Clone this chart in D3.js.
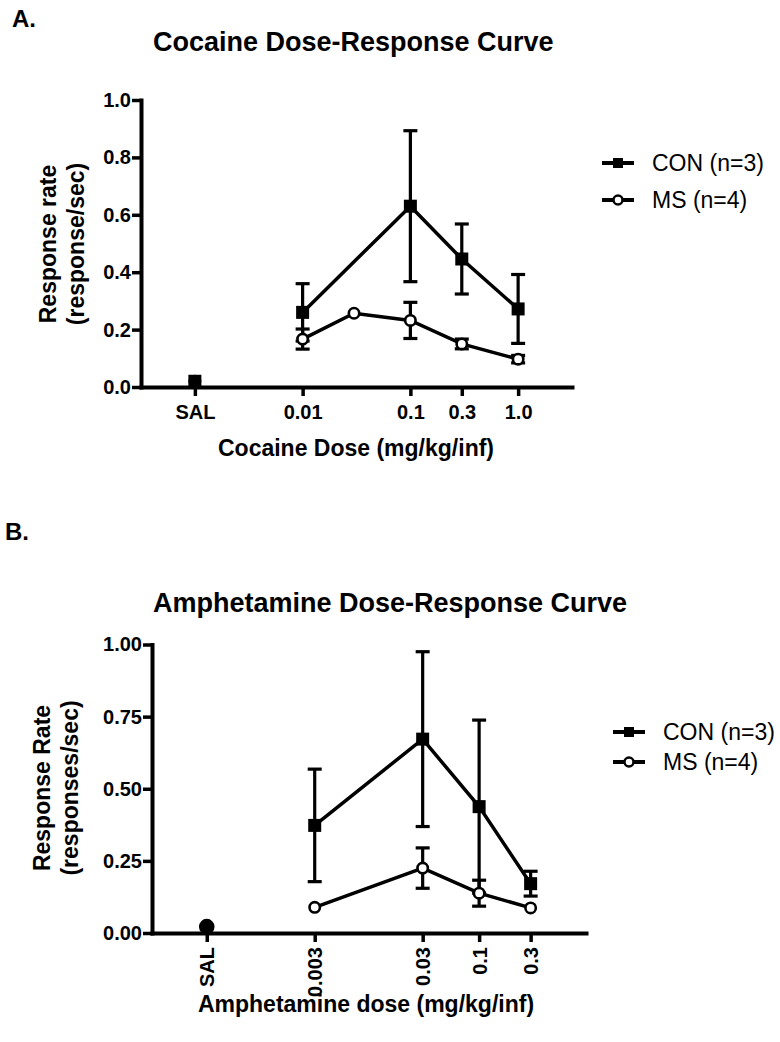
<!DOCTYPE html>
<html><head><meta charset="utf-8">
<script src="https://cdn.jsdelivr.net/npm/d3@7"></script>
<style>
html,body{margin:0;padding:0;background:#fff;}
svg{display:block;font-family:"Liberation Sans",Arial,sans-serif;}
</style></head>
<body>
<svg id="chart" width="780" height="1042"></svg>
<script>
// ---- Panel A: Cocaine ----
const dosesA = [0.001, 0.01, 0.03, 0.1, 0.3, 1.0];      // 0.001 = SAL position
const tickDosesA = [0.001, 0.01, 0.1, 0.3, 1.0];
const tickLabelsA = ["SAL", "0.01", "0.1", "0.3", "1.0"];
const conA = [0.02, 0.26, null, 0.63, 0.446, 0.272];
const conErrA = [0, 0.10, null, 0.263, 0.122, 0.12];
const msA = [0.02, 0.167, 0.257, 0.232, 0.150, 0.097];
const msErrA = [0, 0.035, 0, 0.063, 0.017, 0.013];
const yTicksA = [0, 0.2, 0.4, 0.6, 0.8, 1.0];

// ---- Panel B: Amphetamine ----
const dosesB = [0.0003, 0.003, 0.03, 0.1, 0.3];          // 0.0003 = SAL position
const tickLabelsB = ["SAL", "0.003", "0.03", "0.1", "0.3"];
const conB = [0.022, 0.373, 0.672, 0.438, 0.171];
const conErrB = [0, 0.195, 0.303, 0.30, 0.043];
const msB = [0.022, 0.089, 0.225, 0.138, 0.087];
const msErrB = [0, 0, 0.07, 0.045, 0];
const yTicksB = [0, 0.25, 0.5, 0.75, 1.0];

const seriesNames = ["CON (n=3)", "MS (n=4)"];

const svg = d3.select("#chart");

function panel(cfg) {
  const g = svg.append("g");
  const x = d3.scaleLog().domain(cfg.xDomain).range(cfg.xRange);
  const y = d3.scaleLinear().domain([0, 1]).range(cfg.yRange);

  const ya = g.append("g").attr("transform", `translate(${cfg.xRange[0]},0)`)
    .call(d3.axisLeft(y).tickValues(cfg.yTicks).tickFormat(cfg.yFmt).tickSize(9).tickSizeOuter(0).tickPadding(1));
  const xa = g.append("g").attr("transform", `translate(0,${cfg.yRange[0]})`)
    .call(d3.axisBottom(x).tickValues(cfg.xTicks).tickFormat((d, i) => cfg.xLabels[i]).tickSize(9).tickSizeOuter(0).tickPadding(cfg.rotate ? 6 : 9));
  [ya, xa].forEach(a => {
    a.select(".domain").attr("stroke", "#000").attr("stroke-width", 4).attr("stroke-linecap", "square");
    a.selectAll(".tick line").attr("stroke", "#000").attr("stroke-width", 3.5);
    a.selectAll(".tick text").attr("fill", "#000").attr("font-size", 20).attr("font-weight", "bold");
  });
  if (cfg.rotate) {
    xa.selectAll(".tick text").attr("transform", "rotate(-90)").attr("text-anchor", "end")
      .attr("x", -14).attr("y", 0).attr("dy", "0.35em");
  }

  const defs = [
    {vals: cfg.ms, errs: cfg.msErr, marker: "circle"},
    {vals: cfg.con, errs: cfg.conErr, marker: "square"}
  ];
  const line = d3.line().x(d => x(d.x)).y(d => y(d.v));
  defs.forEach(s => {
    const pts = cfg.doses.map((d, i) => ({x: d, v: s.vals[i], e: s.errs[i]}));
    const linePts = pts.slice(1).filter(p => p.v != null);
    g.append("path").datum(linePts).attr("d", line).attr("fill", "none").attr("stroke", "#000").attr("stroke-width", 3.5);
    pts.filter(p => p.v != null && p.e > 0).forEach(p => {
      const px = x(p.x), top = y(p.v + p.e), bot = y(p.v - p.e);
      g.append("line").attr("x1", px).attr("x2", px).attr("y1", top).attr("y2", bot).attr("stroke", "#000").attr("stroke-width", 3.2);
      [top, bot].forEach(yy => g.append("line").attr("x1", px - 7).attr("x2", px + 7).attr("y1", yy).attr("y2", yy).attr("stroke", "#000").attr("stroke-width", 3.2));
    });
    s.pts = pts;
  });
  defs.forEach(s => {
    s.pts.filter(p => p.v != null).forEach(p => {
      const px = x(p.x), py = y(p.v);
      if (s.marker === "square") {
        if (p.x === cfg.doses[0] && cfg.salFilled) return;
        g.append("rect").attr("x", px - 6.5).attr("y", py - 6.5).attr("width", 13).attr("height", 13).attr("fill", "#000");
      } else {
        const filled = p.x === cfg.doses[0] && cfg.salFilled;
        g.append("circle").attr("cx", px).attr("cy", py).attr("r", filled ? 6.5 : 5.2)
          .attr("fill", filled ? "#000" : "#fff").attr("stroke", "#000").attr("stroke-width", 2.6);
      }
    });
  });

  g.append("text").attr("x", cfg.panelPos[0]).attr("y", cfg.panelPos[1]).text(cfg.panel)
    .attr("font-size", 24).attr("font-weight", "bold");
  g.append("text").attr("x", cfg.titlePos[0]).attr("y", cfg.titlePos[1])
    .text(cfg.title).attr("font-size", 27).attr("font-weight", "bold");
  g.append("text").attr("x", cfg.xTitlePos[0]).attr("y", cfg.xTitlePos[1]).attr("text-anchor", "middle")
    .text(cfg.xTitle).attr("font-size", 23).attr("font-weight", "bold");
  const yt = g.append("text").attr("transform", `translate(${cfg.yTitlePos[0]},${cfg.yTitlePos[1]}) rotate(-90)`)
    .attr("text-anchor", "middle").attr("font-size", 23).attr("font-weight", "bold");
  yt.append("tspan").attr("x", 0).attr("dy", 0).text(cfg.yTitle[0]);
  yt.append("tspan").attr("x", 0).attr("dy", 28).text(cfg.yTitle[1]);

  seriesNames.forEach((n, i) => {
    const ly = cfg.legPos[1] + i * cfg.legGap, lx = cfg.legPos[0];
    g.append("line").attr("x1", lx).attr("x2", lx + 32).attr("y1", ly).attr("y2", ly).attr("stroke", "#000").attr("stroke-width", 4);
    if (i === 0) g.append("rect").attr("x", lx + 11).attr("y", ly - 5).attr("width", 10).attr("height", 10).attr("fill", "#000");
    else g.append("circle").attr("cx", lx + 16).attr("cy", ly).attr("r", 4.5).attr("fill", "#fff").attr("stroke", "#000").attr("stroke-width", 2.5);
    g.append("text").attr("x", lx + 50).attr("y", ly).attr("dy", "0.35em").text(n).attr("font-size", 23);
  });
}

panel({
  xDomain: [Math.pow(10, -3.5), Math.pow(10, 0.5)], xRange: [141, 572], yRange: [387, 100],
  xTicks: tickDosesA, xLabels: tickLabelsA, yTicks: yTicksA, yFmt: d3.format(".1f"),
  doses: dosesA, con: conA, conErr: conErrA, ms: msA, msErr: msErrA, rotate: false, salFilled: false,
  panel: "A.", panelPos: [12, 27], title: "Cocaine Dose-Response Curve", titlePos: [153, 51],
  xTitle: "Cocaine Dose (mg/kg/inf)", xTitlePos: [356, 456],
  yTitle: ["Response rate", "(response/sec)"], yTitlePos: [56, 244],
  legPos: [602, 163], legGap: 37
});

panel({
  xDomain: [Math.pow(10, -4.03), Math.pow(10, -0.01)], xRange: [152, 586], yRange: [933, 644.5],
  xTicks: dosesB, xLabels: tickLabelsB, yTicks: yTicksB, yFmt: d3.format(".2f"),
  doses: dosesB, con: conB, conErr: conErrB, ms: msB, msErr: msErrB, rotate: true, salFilled: true,
  panel: "B.", panelPos: [5, 540], title: "Amphetamine Dose-Response Curve", titlePos: [153, 612],
  xTitle: "Amphetamine dose (mg/kg/inf)", xTitlePos: [366, 1012],
  yTitle: ["Response Rate", "(responses/sec)"], yTitlePos: [50, 788],
  legPos: [613, 732], legGap: 30
});
</script>
</body></html>
